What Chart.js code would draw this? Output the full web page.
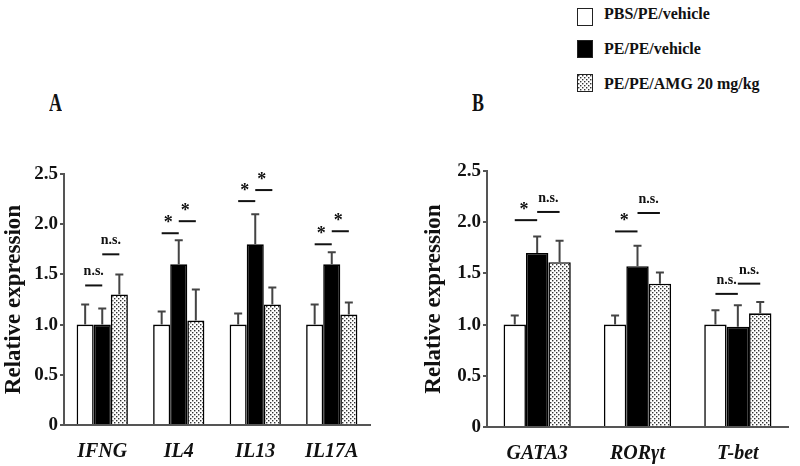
<!DOCTYPE html>
<html>
<head>
<meta charset="utf-8">
<title>Relative expression</title>
<script src="https://cdn.jsdelivr.net/npm/chart.js@4.4.1/dist/chart.umd.min.js"></script>
<style>
body{margin:0;background:#fff;width:800px;height:466px;position:relative;overflow:hidden;font-family:'Liberation Serif','Times New Roman',serif;color:#111;}
.panel{position:absolute;top:0;}
.letter{position:absolute;font-weight:bold;font-size:18px;line-height:18px;transform:scaleY(1.35);transform-origin:left top;}
.key{position:absolute;left:577px;width:14px;height:16px;border:1.5px solid #222;background:#fff;}
.keytext{position:absolute;left:604px;font-weight:bold;font-size:16px;line-height:18px;}
</style>
</head>
<body>
<div class="letter" style="left:49px;top:91px;">A</div>
<div class="letter" style="left:472px;top:91px;">B</div>

<div class="key" style="top:8px;"></div>
<div class="keytext" style="top:5px;">PBS/PE/vehicle</div>
<div class="key" style="top:40px;background:#000;"></div>
<div class="keytext" style="top:40px;">PE/PE/vehicle</div>
<div class="key" id="dotKey" style="top:74px;"></div>
<div class="keytext" style="top:75px;">PE/PE/AMG 20 mg/kg</div>

<canvas id="chartA" class="panel" style="left:0px;" width="400" height="466"></canvas>
<canvas id="chartB" class="panel" style="left:400px;" width="400" height="466"></canvas>

<script>
// series names
var groups = ['PBS/PE/vehicle', 'PE/PE/vehicle', 'PE/PE/AMG 20 mg/kg'];

// panel A - cytokines
var genesA = ['IFNG', 'IL4', 'IL13', 'IL17A'];
var pbsA = [1.0, 1.0, 1.0, 1.0];
var pbsErrA = [0.20, 0.13, 0.11, 0.20];
var peA = [1.0, 1.6, 1.8, 1.6];
var peErrA = [0.16, 0.24, 0.30, 0.12];
var amgA = [1.3, 1.04, 1.2, 1.1];
var amgErrA = [0.20, 0.31, 0.17, 0.12];
var sigTextA = [['n.s.', 'n.s.'], ['*', '*'], ['*', '*'], ['*', '*']];
var sigLevelA = [[1.39, 1.70], [1.91, 2.03], [2.23, 2.34], [1.80, 1.93]];

// panel B - transcription factors
var genesB = ['GATA3', 'ROR\u03B3t', 'T-bet'];
var pbsB = [1.0, 1.0, 1.0];
var pbsErrB = [0.09, 0.09, 0.14];
var peB = [1.7, 1.57, 0.98];
var peErrB = [0.16, 0.20, 0.21];
var amgB = [1.61, 1.4, 1.11];
var amgErrB = [0.21, 0.11, 0.11];
var sigTextB = [['*', 'n.s.'], ['*', 'n.s.'], ['n.s.', 'n.s.']];
var sigLevelB = [[2.02, 2.10], [1.91, 2.09], [1.30, 1.40]];

var yTicks = [0, 0.5, 1.0, 1.5, 2.0, 2.5];

var serif = "'Liberation Serif', 'Times New Roman', serif";

// 4x4 tile with two dots, staggered
function dotTile() {
    var c = document.createElement('canvas');
    c.width = 4; c.height = 4;
    var g = c.getContext('2d');
    g.fillStyle = '#fff';
    g.fillRect(0, 0, 4, 4);
    g.fillStyle = '#333';
    g.fillRect(0, 0, 1.4, 1.4);
    g.fillRect(2, 2, 1.4, 1.4);
    return c;
}

document.getElementById('dotKey').style.backgroundImage = 'url(' + dotTile().toDataURL() + ')';

var errorBars = {
    id: 'errorBars',
    afterDatasetsDraw: function(chart) {
        var ctx = chart.ctx, y = chart.scales.y;
        ctx.save();
        ctx.strokeStyle = '#444';
        ctx.lineWidth = 2;
        chart.data.datasets.forEach(function(ds, i) {
            chart.getDatasetMeta(i).data.forEach(function(bar, j) {
                var top = y.getPixelForValue(ds.data[j] + ds.errors[j]);
                ctx.beginPath();
                ctx.moveTo(bar.x, bar.y);
                ctx.lineTo(bar.x, top);
                ctx.moveTo(bar.x - 4, top);
                ctx.lineTo(bar.x + 4, top);
                ctx.stroke();
            });
        });
        ctx.restore();
    }
};

function sigMarks(texts, levels) {
    return {
        id: 'sigMarks',
        afterDraw: function(chart) {
            var ctx = chart.ctx, y = chart.scales.y;
            var bars = [0, 1, 2].map(function(i){ return chart.getDatasetMeta(i).data; });
            ctx.save();
            ctx.fillStyle = '#111';
            ctx.strokeStyle = '#111';
            ctx.lineWidth = 2;
            ctx.textAlign = 'center';
            ctx.textBaseline = 'alphabetic';
            texts.forEach(function(pair, j) {
                for (var k = 0; k < 2; k++) {
                    var x1 = bars[k][j].x, x2 = bars[k + 1][j].x;
                    var yy = y.getPixelForValue(levels[j][k]);
                    ctx.beginPath();
                    ctx.moveTo(x1, yy);
                    ctx.lineTo(x2, yy);
                    ctx.stroke();
                    if (pair[k] == '*') {
                        ctx.font = 'bold 18px ' + serif;
                        ctx.fillText('*', (x1 + x2) / 2 - 2, yy - 5);
                    } else {
                        ctx.font = 'bold 14px ' + serif;
                        ctx.fillText(pair[k], (x1 + x2) / 2, yy - 10);
                    }
                }
            });
            ctx.restore();
        }
    };
}

function makeChart(id, genes, vals, errs, texts, levels, box) {
    var pattern = document.getElementById(id).getContext('2d').createPattern(dotTile(), 'repeat');
    return new Chart(document.getElementById(id), {
        type: 'bar',
        data: {
            labels: genes,
            datasets: [
                { label: groups[0], data: vals[0], errors: errs[0], backgroundColor: '#fff' },
                { label: groups[1], data: vals[1], errors: errs[1], backgroundColor: '#000' },
                { label: groups[2], data: vals[2], errors: errs[2], backgroundColor: pattern }
            ]
        },
        options: {
            responsive: false,
            animation: false,
            devicePixelRatio: 1,
            layout: { padding: { top: box.top, right: box.right, left: 0, bottom: 0 } },
            datasets: {
                bar: {
                    borderColor: '#000',
                    borderWidth: 1.6,
                    borderSkipped: 'bottom',
                    categoryPercentage: 0.67,
                    barPercentage: 1.0
                }
            },
            plugins: { legend: { display: false }, tooltip: { enabled: false } },
            scales: {
                x: {
                    grid: { display: false },
                    border: { display: true, color: '#555', width: 2 },
                    ticks: { color: '#111', padding: 7, font: { family: serif, size: 20, weight: 'bold', style: 'italic' } },
                    afterFit: function(s) { s.height = box.xh; }
                },
                y: {
                    min: 0,
                    max: 2.5,
                    afterBuildTicks: function(s) { s.ticks = yTicks.map(function(v){ return { value: v }; }); },
                    grid: { drawOnChartArea: false, drawTicks: true, tickLength: 4, color: '#555', lineWidth: 2 },
                    border: { display: true, color: '#555', width: 2 },
                    ticks: {
                        color: '#111',
                        padding: 2,
                        font: { family: serif, size: 19, weight: 'bold' },
                        callback: function(v) { return v == 0 ? '0' : v.toFixed(1); }
                    },
                    title: {
                        display: true,
                        text: 'Relative expression',
                        color: '#111',
                        padding: { top: box.titlePad, bottom: 0 },
                        font: { family: serif, size: 23, weight: 'bold' }
                    },
                    afterFit: function(s) { s.width = box.yw; }
                }
            }
        },
        plugins: [errorBars, sigMarks(texts, levels)]
    });
}

makeChart('chartA', genesA, [pbsA, peA, amgA], [pbsErrA, peErrA, amgErrA], sigTextA, sigLevelA,
    { top: 174, right: 30, xh: 41, yw: 64, titlePad: 0 });
makeChart('chartB', genesB, [pbsB, peB, amgB], [pbsErrB, peErrB, amgErrB], sigTextB, sigLevelB,
    { top: 171, right: 12, xh: 39, yw: 87, titlePad: 20 });
</script>
</body>
</html>
